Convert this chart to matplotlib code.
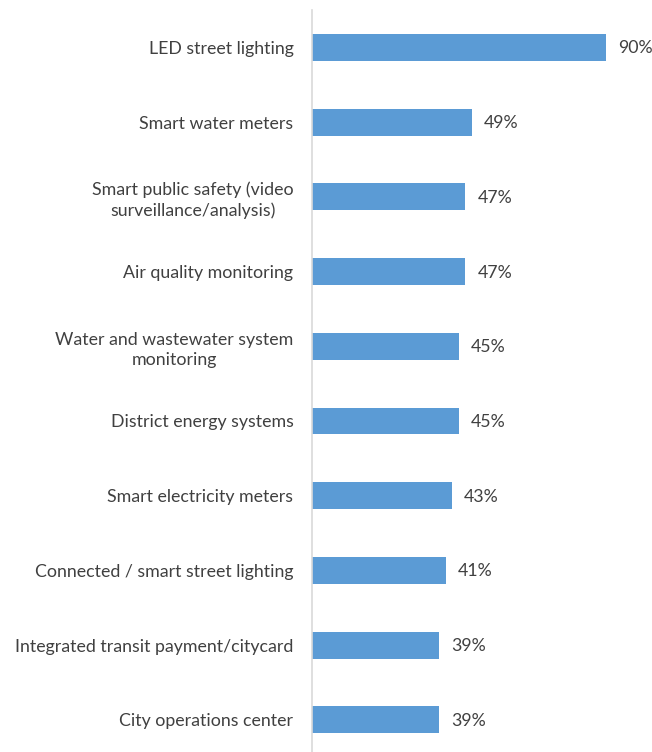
import matplotlib
matplotlib.use("Agg")
from matplotlib import pyplot as plt

# categories top to bottom, share of cities (%)
categories = [
    "LED street lighting",
    "Smart water meters",
    "Smart public safety (video\nsurveillance/analysis)",
    "Air quality monitoring",
    "Water and wastewater system\nmonitoring",
    "District energy systems",
    "Smart electricity meters",
    "Connected / smart street lighting",
    "Integrated transit payment/citycard",
    "City operations center",
]
values = [90, 49, 47, 47, 45, 45, 43, 41, 39, 39]
value_labels = ["90%", "49%", "47%", "47%", "45%", "45%", "43%", "41%", "39%", "39%"]

plt.rcParams['font.family'] = ['Lato', 'DejaVu Sans']

fig = plt.figure(figsize=(6.52, 7.52), dpi=100)
ax = fig.add_axes([0.4778, 0.0, 0.5018, 0.9867])

ypos = list(range(len(categories)))
ax.barh(ypos, values, height=0.36, color='#5B9BD5')

for y, v, lab in zip(ypos, values, value_labels):
    ax.annotate(lab, xy=(v, y), xytext=(12, -1), textcoords='offset pixels',
                ha='left', va='center', fontsize=12.8, color='#404040')

ax.set_xlim(0, 100)
ax.set_ylim(9.43, -0.5)
ax.set_yticks(ypos)
ax.set_yticklabels(categories, fontsize=12.8, color='#404040', multialignment='center',
                   linespacing=1.3)
ax.tick_params(axis='y', length=0, pad=13)
ax.set_xticks([])

for s in ['top', 'right', 'bottom']:
    ax.spines[s].set_visible(False)
ax.spines['left'].set_color('#D9D9D9')
ax.spines['left'].set_linewidth(1.2)

fig.savefig("out.png", dpi=100)
